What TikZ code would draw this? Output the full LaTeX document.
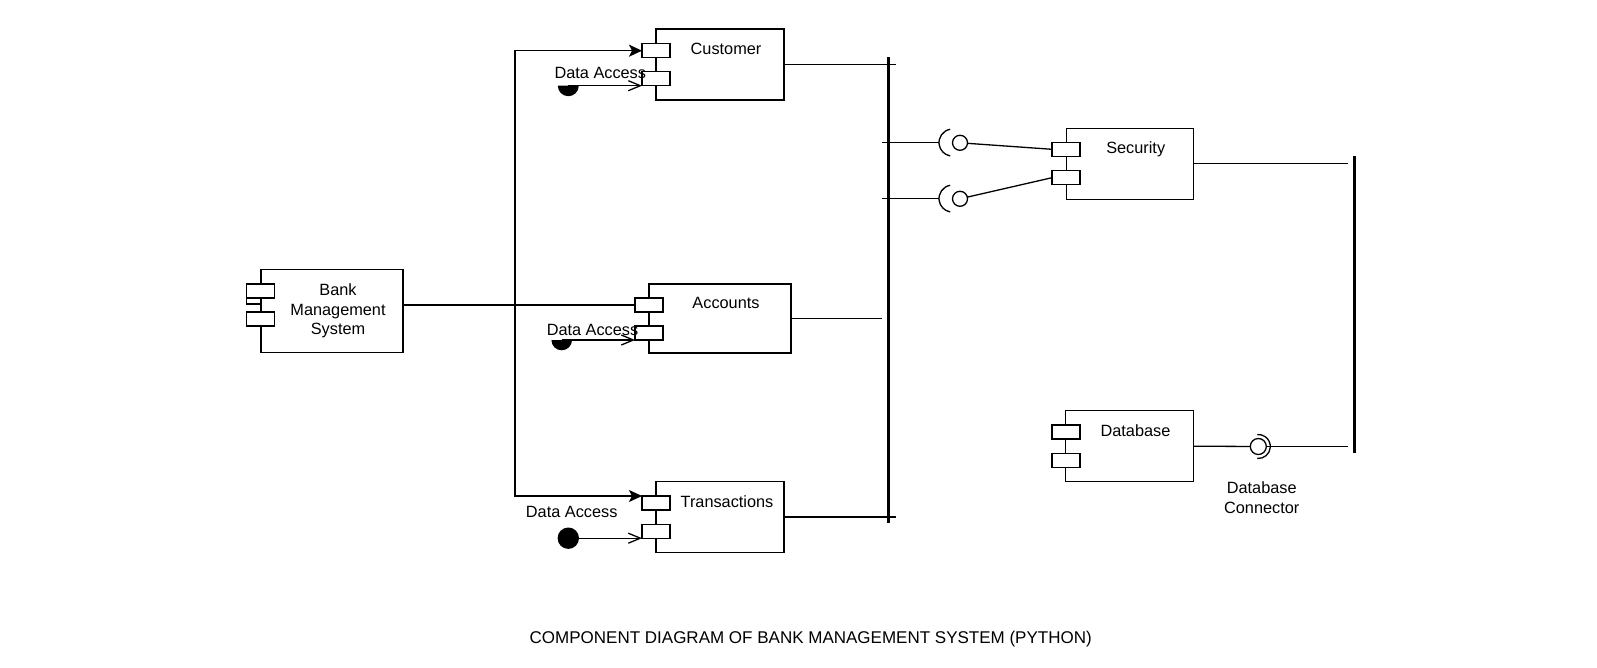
\documentclass[tikz,border=0pt]{standalone}
\usepackage{fontspec}
\setmainfont{Liberation Sans}
\usetikzlibrary{arrows.meta,calc}
\begin{document}
\begin{tikzpicture}[x=1pt,y=-1pt, line width=1.3pt,
  box/.style={draw, fill=white, inner sep=0pt, outer sep=0pt},
  port/.style={draw, fill=white, minimum width=28pt, minimum height=14pt, inner sep=0pt, outer sep=0pt},
  bus/.style={fill=black, minimum width=3.3pt, inner sep=0pt, outer sep=0pt},
  lbl/.style={font=\fontsize{16.3}{19}\selectfont, inner sep=0pt, text height=11.7pt, text depth=0pt},
  mlbl/.style={font=\fontsize{16.3}{19.3}\selectfont, inner sep=0pt, align=center},
  ball/.style={draw, fill=white, circle, inner sep=0pt, outer sep=0pt},
  filledarr/.style={{Stealth[length=13pt,width=12pt,inset=3pt]}-{Stealth[length=13pt,width=12pt,inset=3pt]}},
  openarr/.style={-{Straight Barb[length=12pt,width=10pt]}},
]
\useasboundingbox (0,0) rectangle (1597,668);

% components
\node[box, minimum width=128pt, minimum height=71pt] (cust) at (720,64.5) {};
\node[lbl] (custT) at ([shift={(6,20)}]cust.north) {Customer};
\node[box, minimum width=142pt, minimum height=69pt] (acc) at (720,318.5) {};
\node[lbl] (accT) at ([shift={(6,19)}]acc.north) {Accounts};
\node[box, minimum width=128pt, minimum height=70.6pt] (tr) at (720,517) {};
\node[lbl] (trT) at ([shift={(7,20)}]tr.north) {Transactions};
\node[box, minimum width=142pt, minimum height=83pt] (bms) at (332,311) {};
\node[mlbl] (bmsT) at (338,311) {Bank\\Management\\System};
\node[box, minimum width=127pt, minimum height=71pt] (sec) at (1129.7,163.7) {};
\node[lbl] (secT) at ([shift={(6,19)}]sec.north) {Security};
\node[box, minimum width=128pt, minimum height=71pt] (db) at (1129.5,446.2) {};
\node[lbl] (dbT) at ([shift={(6,20)}]db.north) {Database};

% ports
\node[port] (custp1) at (656,50.7) {};
\node[port] (custp2) at (656,78.7) {};
\node[port] (accp1) at (649,305) {};
\node[port] (accp2) at (649,333) {};
\node[port] (trp1) at (656,503) {};
\node[port] (trp2) at (656,531.2) {};
\node[port] (bmsp1) at (260.5,291) {};
\node[port] (bmsp2) at (260.5,319) {};
\draw (bmsp1.south west) -- ++(0,6) -- ++(15,0);
\node[port] (secp1) at (1066,149.3) {};
\node[port] (secp2) at (1066,177.7) {};
\node[port] (dbp1) at (1066,432) {};
\node[port] (dbp2) at (1066,460.3) {};

% buses
\node[bus, minimum height=466pt] (busL) at (888.7,290.3) {};
\node[bus, minimum height=296.7pt] (busR) at (1354.7,304.3) {};

% component to bus
\draw (cust.east) -- ([xshift=6pt]cust.east -| busL.east);
\draw (acc.east) -- ([xshift=-5pt]acc.east -| busL.west);
\draw (tr.east) -- ([xshift=6pt]tr.east -| busL.east);
\draw (sec.east) -- ([xshift=-5pt]sec.east -| busR.west);

% BMS links
\coordinate (j) at (515,0);
\draw (bms.east |- accp1.west) -- (accp1.west);
\draw[filledarr] (custp1.west) -- (j |- custp1.west) -- (j |- trp1.north west) -- (trp1.north west);

% data access
\coordinate (d1) at (568.3,85.7);
\fill ([shift={(180:10.5pt)}]d1) arc[start angle=180,end angle=360,radius=10.5pt] -- cycle;
\draw[openarr] (d1) -- (custp2.south west);
\node[lbl] (da1) at (600.3,72.7) {Data Access};

\coordinate (d2) at (561.7,340);
\fill ([shift={(180:10.3pt)}]d2) arc[start angle=180,end angle=360,radius=10.3pt] -- cycle;
\draw[openarr] (d2) -- (accp2.south west);
\node[lbl] (da2) at (592.5,329.3) {Data Access};

\coordinate (d3) at (568.3,538.2);
\fill (d3) circle[radius=10.7pt];
\draw[openarr] (d3) -- (trp2.south west);
\node[lbl] (da3) at (571.7,511.7) {Data Access};

% security sockets
\coordinate (s1) at (952.5,142.6);
\coordinate (s2) at (952.5,198.6);
\node[ball, minimum size=15pt] (b1) at (960,142.8) {};
\node[ball, minimum size=15pt] (b2) at (960,198.8) {};
\draw ([xshift=-5.3pt]s1 -| busL.west) -- ([xshift=-13.5pt]s1);
\draw ([xshift=-5.3pt]s2 -| busL.west) -- ([xshift=-13.5pt]s2);
\draw ([shift={(100:13.5pt)}]s1) arc[start angle=100,end angle=260,radius=13.5pt];
\draw ([shift={(100:13.5pt)}]s2) arc[start angle=100,end angle=260,radius=13.5pt];
\draw (b1) -- (secp1.west);
\draw (b2) -- (secp2.west);

% database connector
\node[ball, minimum size=16pt] (b3) at (1258.3,446.5) {};
\draw ([shift={(-95:12pt)}]b3.center) arc[start angle=-95,end angle=95,radius=12pt];
\draw (db.east) -- (b3);
\draw (b3.east) -- ([xshift=-5pt]b3.east -| busR.west);
\node[mlbl, font=\fontsize{16.3}{20}\selectfont] (dbc) at (1261.7,497.2) {Database\\Connector};

% title
\node[lbl, font=\fontsize{17}{20}\selectfont] (title) at (810.7,637.6) {COMPONENT DIAGRAM OF BANK MANAGEMENT SYSTEM (PYTHON)};
\end{tikzpicture}
\end{document}
